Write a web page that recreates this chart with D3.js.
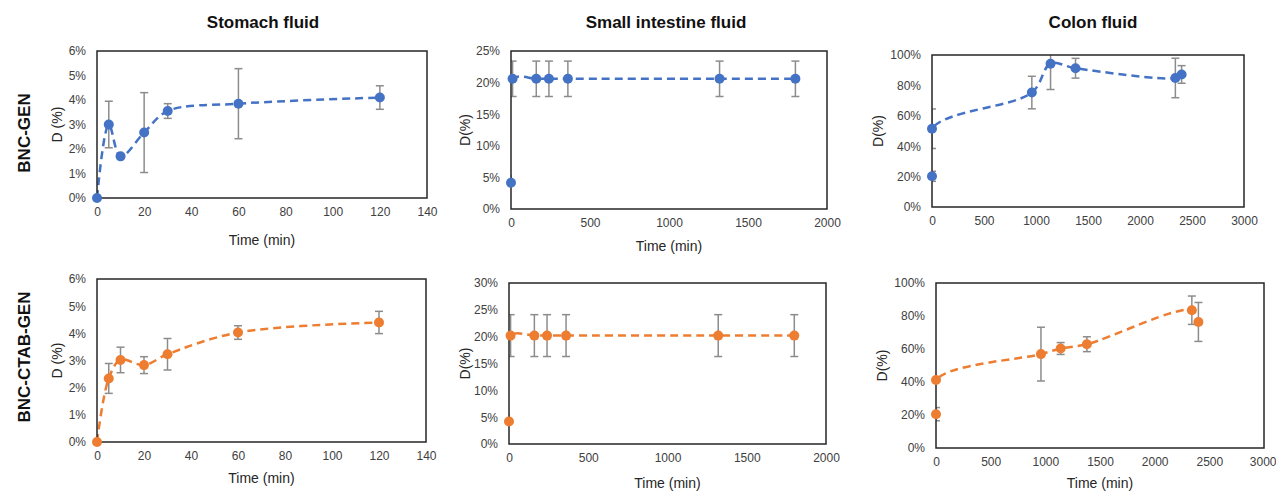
<!DOCTYPE html>
<html>
<head>
<meta charset="utf-8">
<script src="https://cdn.jsdelivr.net/npm/d3@7"></script>
<style>
  html, body { margin: 0; padding: 0; background: #fff; }
  svg { display: block; font-family: "Liberation Sans", Arial, sans-serif; }
</style>
</head>
<body>
<svg id="chart" width="1276" height="492"></svg>
<script>
// ---- data (D in %, time in minutes) ----
const stomachTime = [0, 5, 10, 20, 30, 60, 120];
const stomachGen = [0, 3.0, 1.7, 2.67, 3.55, 3.85, 4.1];
const stomachGenErr = [0, 0.95, 0, 1.63, 0.3, 1.43, 0.48];
const stomachCtab = [0, 2.34, 3.02, 2.83, 3.23, 4.03, 4.4];
const stomachCtabErr = [0, 0.55, 0.47, 0.31, 0.58, 0.25, 0.41];

const intestineTime = [0, 10, 160, 240, 360, 1320, 1800];
const intestineGen = [4.15, 20.6, 20.6, 20.6, 20.6, 20.6, 20.6];
const intestineGenErr = [0, 2.8, 2.8, 2.8, 2.8, 2.8, 2.8];
const intestineCtab = [4.2, 20.2, 20.2, 20.2, 20.2, 20.2, 20.2];
const intestineCtabErr = [0, 3.9, 3.9, 3.9, 3.9, 3.9, 3.9];

const colonTime = [0, 0, 960, 1140, 1380, 2340, 2400];
const colonGen = [20.2, 51.5, 75.3, 94.3, 91.3, 84.9, 87.2];
const colonGenErr = [3.3, 13, 10.7, 17, 6.5, 13, 5.8];
const colonCtab = [20.5, 41.2, 56.9, 60.3, 62.9, 83.5, 76.4];
const colonCtabErr = [4, 0, 16.3, 3.6, 4.5, 8.6, 11.8];

// ---- tick values ----
const stomachXTicks = [0, 20, 40, 60, 80, 100, 120, 140];
const stomachYTicks = [0, 1, 2, 3, 4, 5, 6];
const intestineXTicks = [0, 500, 1000, 1500, 2000];
const intestineGenYTicks = [0, 5, 10, 15, 20, 25];
const intestineCtabYTicks = [0, 5, 10, 15, 20, 25, 30];
const colonXTicks = [0, 500, 1000, 1500, 2000, 2500, 3000];
const colonYTicks = [0, 20, 40, 60, 80, 100];

const columnTitles = ["Stomach fluid", "Small intestine fluid", "Colon fluid"];
const rowTitles = ["BNC-GEN", "BNC-CTAB-GEN"];

const BLUE = "#4472C4";
const ORANGE = "#ED7D31";

const svg = d3.select("#chart");

const panels = [
  { id: "p1", box: [97, 427, 51, 198], t: stomachTime, v: stomachGen, e: stomachGenErr,
    xt: stomachXTicks, yt: stomachYTicks, color: BLUE, yTitle: "D (%)", yTitleX: 57, xTitleY: 245 },
  { id: "p2", box: [511, 827, 51, 209], t: intestineTime, v: intestineGen, e: intestineGenErr,
    xt: intestineXTicks, yt: intestineGenYTicks, color: BLUE, yTitle: "D(%)", yTitleX: 465, xTitleY: 251 },
  { id: "p3", box: [932, 1244, 55, 207], t: colonTime, v: colonGen, e: colonGenErr,
    xt: colonXTicks, yt: colonYTicks, color: BLUE, yTitle: "D(%)", yTitleX: 878, xTitleY: null },
  { id: "p4", box: [97, 426, 279, 442], t: stomachTime, v: stomachCtab, e: stomachCtabErr,
    xt: stomachXTicks, yt: stomachYTicks, color: ORANGE, yTitle: "D (%)", yTitleX: 57, xTitleY: 483 },
  { id: "p5", box: [509, 826, 283, 444], t: intestineTime, v: intestineCtab, e: intestineCtabErr,
    xt: intestineXTicks, yt: intestineCtabYTicks, color: ORANGE, yTitle: "D(%)", yTitleX: 465, xTitleY: 488 },
  { id: "p6", box: [936, 1264, 283, 448], t: colonTime, v: colonCtab, e: colonCtabErr,
    xt: colonXTicks, yt: colonYTicks, color: ORANGE, yTitle: "D(%)", yTitleX: 882, xTitleY: 488 }
];

const defs = svg.append("defs");

panels.forEach(p => {
  const [x0, x1, y0, y1] = p.box;
  const x = d3.scaleLinear().domain([p.xt[0], p.xt[p.xt.length - 1]]).range([x0, x1]);
  const y = d3.scaleLinear().domain([p.yt[0], p.yt[p.yt.length - 1]]).range([y1, y0]);

  defs.append("clipPath").attr("id", "clip-" + p.id)
    .append("rect").attr("x", x0).attr("y", y0).attr("width", x1 - x0).attr("height", y1 - y0);

  const g = svg.append("g");

  // axes: labels only, no tick marks
  const xAxis = d3.axisBottom(x).tickValues(p.xt).tickSize(0).tickPadding(9).tickFormat(d3.format("d"));
  const yAxis = d3.axisLeft(y).tickValues(p.yt).tickSize(0).tickPadding(11).tickFormat(d => d + "%");

  const gx = g.append("g").attr("transform", `translate(0,${y1})`).call(xAxis);
  const gy = g.append("g").attr("transform", `translate(${x0},0)`).call(yAxis);
  [gx, gy].forEach(a => {
    a.select(".domain").remove();
    a.selectAll("text").attr("fill", "#404040").style("font-size", "12px")
      .style("font-family", "'Liberation Sans', Arial, sans-serif");
  });
  // keep the last x label inside the page edge
  gx.selectAll(".tick text").filter(d => x(d) + 14 > 1276).attr("text-anchor", "end").attr("x", 1276 - x1);

  const data = p.t.map((t, i) => ({ t, v: p.v[i], e: p.e[i] }));
  const plot = g.append("g").attr("clip-path", `url(#clip-${p.id})`);

  // error bars
  const eb = plot.selectAll("g.err").data(data.filter(d => d.e > 0)).join("g").attr("class", "err")
    .attr("stroke", "#8c8c8c").attr("stroke-width", 1.5).attr("fill", "none");
  eb.append("line").attr("x1", d => x(d.t)).attr("x2", d => x(d.t))
    .attr("y1", d => y(d.v - d.e)).attr("y2", d => y(d.v + d.e));
  eb.append("line").attr("x1", d => x(d.t) - 4).attr("x2", d => x(d.t) + 4)
    .attr("y1", d => y(d.v - d.e)).attr("y2", d => y(d.v - d.e));
  eb.append("line").attr("x1", d => x(d.t) - 4).attr("x2", d => x(d.t) + 4)
    .attr("y1", d => y(d.v + d.e)).attr("y2", d => y(d.v + d.e));

  // smoothed dashed line
  const line = d3.line().x(d => x(d.t)).y(d => y(d.v)).curve(d3.curveCatmullRom.alpha(0.5));
  plot.append("path").datum(data).attr("d", line).attr("fill", "none")
    .attr("stroke", p.color).attr("stroke-width", 2.5).attr("stroke-dasharray", "8,5");

  // plot border
  g.append("rect").attr("x", x0).attr("y", y0).attr("width", x1 - x0).attr("height", y1 - y0)
    .attr("fill", "none").attr("stroke", "#262626").attr("stroke-width", 1.5);

  // markers sit on top of the border so edge points stay whole
  g.append("g").selectAll("circle").data(data).join("circle")
    .attr("cx", d => x(d.t)).attr("cy", d => y(d.v)).attr("r", 5).attr("fill", p.color);

  // axis titles
  g.append("text").attr("transform", `translate(${p.yTitleX},${(y0 + y1) / 2}) rotate(-90)`)
    .attr("text-anchor", "middle").attr("dy", "0.35em").style("font-size", "14px").attr("fill", "#262626")
    .text(p.yTitle);
  if (p.xTitleY !== null) {
    g.append("text").attr("x", (x0 + x1) / 2).attr("y", p.xTitleY)
      .attr("text-anchor", "middle").style("font-size", "14px").attr("fill", "#262626")
      .text("Time (min)");
  }
});

// column headers
const colCenters = [263, 666, 1093];
svg.selectAll("text.col").data(columnTitles).join("text").attr("class", "col")
  .attr("x", (d, i) => colCenters[i]).attr("y", 28).attr("text-anchor", "middle")
  .style("font-size", "17px").style("font-weight", "bold").attr("fill", "#111").text(d => d);

// row headers
const rowCenters = [133, 357];
svg.selectAll("text.row").data(rowTitles).join("text").attr("class", "row")
  .attr("transform", (d, i) => `translate(24,${rowCenters[i]}) rotate(-90)`)
  .attr("text-anchor", "middle").attr("dy", "0.35em")
  .style("font-size", "17px").style("font-weight", "bold").attr("fill", "#111").text(d => d);
</script>
</body>
</html>
